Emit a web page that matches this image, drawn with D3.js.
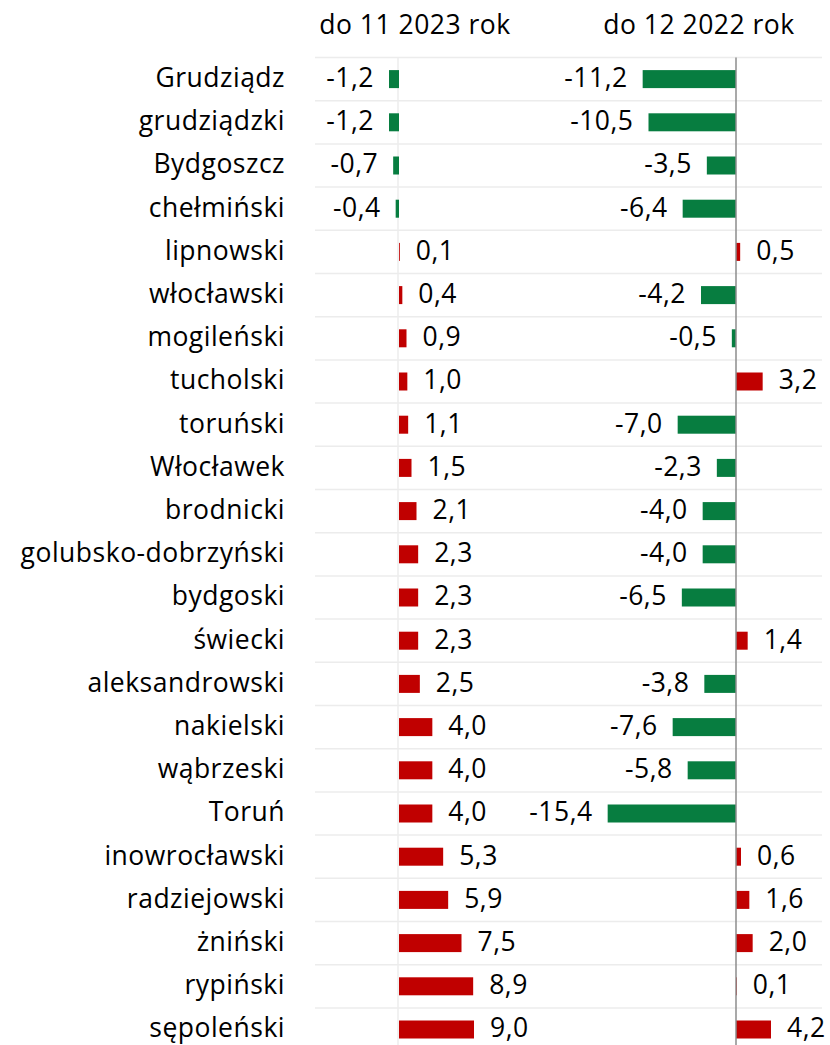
<!DOCTYPE html>
<html>
<head>
<meta charset="utf-8">
<script src="https://cdn.jsdelivr.net/npm/d3@7"></script>
<style>
body { margin: 0; background: #fff; }
text { font-family: "Open Sans", Lato, sans-serif; fill: #000; letter-spacing: 0.5px; }
</style>
</head>
<body>
<svg id="chart" width="830" height="1045"></svg>
<script>
var width = 830, height = 1045;

var names = ["Grudziądz","grudziądzki","Bydgoszcz","chełmiński","lipnowski","włocławski","mogileński","tucholski","toruński","Włocławek","brodnicki","golubsko-dobrzyński","bydgoski","świecki","aleksandrowski","nakielski","wąbrzeski","Toruń","inowrocławski","radziejowski","żniński","rypiński","sępoleński"];
var v2023 = [-1.2,-1.2,-0.7,-0.4,0.1,0.4,0.9,1.0,1.1,1.5,2.1,2.3,2.3,2.3,2.5,4.0,4.0,4.0,5.3,5.9,7.5,8.9,9.0];
var v2022 = [-11.2,-10.5,-3.5,-6.4,0.5,-4.2,-0.5,3.2,-7.0,-2.3,-4.0,-4.0,-6.5,1.4,-3.8,-7.6,-5.8,-15.4,0.6,1.6,2.0,0.1,4.2];
var titles = ["do 11 2023 rok", "do 12 2022 rok"];

var green = "#077d40", red = "#c00000";
var fs = "26.5px";
var svg = d3.select("#chart");

var y = d3.scaleBand().domain(names).range([57.5, 57.5 + 43.2 * names.length]);
var barH = 18;

// same units per pixel in both panels
var xL = d3.scaleLinear().domain([0, 9]).range([399, 474]);
var xR = d3.scaleLinear().domain([0, 9]).range([736, 811]);

function fmt(v) { return v.toFixed(1).replace(".", ","); }

// horizontal gridlines
var bounds = names.map(function(n) { return y(n); }).concat([y.range()[1]]);
svg.append("g").selectAll("line")
    .data(bounds)
    .join("line")
    .attr("x1", 315).attr("x2", 822)
    .attr("y1", function(d) { return d; })
    .attr("y2", function(d) { return d; })
    .attr("stroke", "#ececec")
    .attr("stroke-width", 1.5);

// light zero line of left panel
svg.append("line")
    .attr("x1", xL(0) - 1).attr("x2", xL(0) - 1)
    .attr("y1", 57.5).attr("y2", height)
    .attr("stroke", "#ececec").attr("stroke-width", 1.5);

// category labels
svg.append("g").selectAll("text")
    .data(names)
    .join("text")
    .attr("x", 285)
    .attr("y", function(d) { return y(d) + y.bandwidth() / 2; })
    .attr("dy", "0.3em")
    .attr("text-anchor", "end")
    .style("font-size", fs)
    .text(function(d) { return d; });

function panel(vals, x) {
    var g = svg.append("g");
    g.selectAll("rect")
        .data(vals)
        .join("rect")
        .attr("x", function(d) { return Math.min(x(0), x(d)); })
        .attr("width", function(d) { return Math.abs(x(d) - x(0)); })
        .attr("y", function(d, i) { return y(names[i]) + (y.bandwidth() - barH) / 2; })
        .attr("height", barH)
        .attr("fill", function(d) { return d < 0 ? green : red; });
    g.selectAll("text")
        .data(vals)
        .join("text")
        .attr("x", function(d) { return d < 0 ? x(d) - 15 : x(d) + 16; })
        .attr("y", function(d, i) { return y(names[i]) + y.bandwidth() / 2; })
        .attr("dy", "0.3em")
        .attr("text-anchor", function(d) { return d < 0 ? "end" : "start"; })
        .style("font-size", fs)
        .text(fmt);
}

panel(v2023, xL);
panel(v2022, xR);

// axis line of right panel
svg.append("line")
    .attr("x1", xR(0)).attr("x2", xR(0))
    .attr("y1", 57.5).attr("y2", height)
    .attr("stroke", "#8c8c8c").attr("stroke-width", 1.5);

// panel titles
svg.append("g").selectAll("text")
    .data(titles)
    .join("text")
    .attr("x", function(d, i) { return i == 0 ? 415 : 699; })
    .attr("y", 34)
    .attr("text-anchor", "middle")
    .style("font-size", fs)
    .text(function(d) { return d; });
</script>
</body>
</html>
